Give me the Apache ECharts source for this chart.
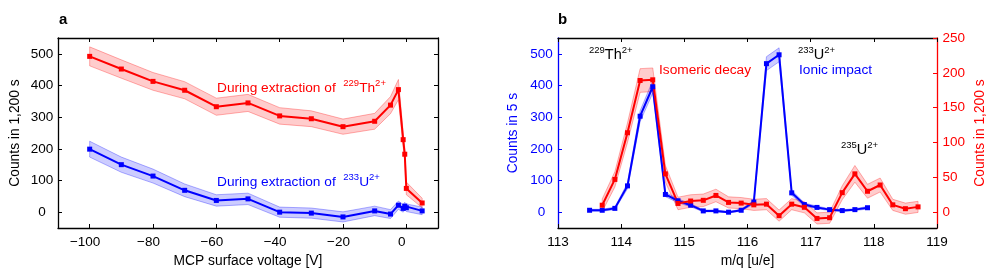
<!DOCTYPE html>
<html><head><meta charset="utf-8">
<script src="https://cdn.jsdelivr.net/npm/echarts@6/dist/echarts.min.js"></script>
<style>html,body{margin:0;padding:0;background:#fff}#c{width:997px;height:274px}</style>
</head><body><div id="c"></div>
<script>
// ---- Panel a data ----
const voltA = [-100,-90,-80,-70,-60,-50,-40,-30,-20,-10,-5,-2.5,-1,-0.5,0,5];
const thA    = [492,452,413,385,333,345,304,295,270,287,338,387,229,183,75,29];
const thAErr = [30,29,28,27,27,27,26,25,24,25,27,32,22,20,20,15];
const uA     = [199,150,114,69,37,42,0,-3,-15,4,-6,22,12,19,14,4];
const uAErr  = [25,24,22,20,18,18,16,16,16,15,14,13,12,12,12,12];
const ticksA_x = [-100,-80,-60,-40,-20,0];
const ticksA_y = [0,100,200,300,400,500];

// ---- Panel b data ----
const mqBlue = [113.5,113.7,113.9,114.1,114.3,114.5,114.7,114.9,115.1,115.3,115.5,115.7,115.9,116.1,116.3,116.5,116.7,116.9,117.1,117.3,117.5,117.7,117.9];
const ionic    = [6,6,12,83,303,396,56,36,22,4,4,0,6,32,469,497,61,24,15,8,5,8,14];
const ionicErr = [3,3,4,9,17,20,7,6,5,3,3,2,3,6,22,22,8,5,4,3,3,3,4];
const mqRed = [113.7,113.9,114.1,114.3,114.5,114.7,114.9,115.1,115.3,115.5,115.7,115.9,116.1,116.3,116.5,116.7,116.9,117.1,117.3,117.5,117.7,117.9,118.1,118.3,118.5,118.7];
const iso    = [10,47,114,189,190,55,12.5,16,17,24,14,13,10.5,11.5,-5,11.5,7,-9,-8,28,55,30,39,10.5,5,7.6];
const isoErr = [9,11,14,17,17,12,9,9,9,9,8,8,8,8,8,8,8,8,8,10,12,10,10,8,8,8];
const ticksB_x = [113,114,115,116,117,118,119];
const ticksB_yL = [0,100,200,300,400,500];
const ticksB_yR = [0,50,100,150,200,250];

const FF = "'Liberation Sans', Arial, Helvetica, sans-serif";
const RED = '#ff0000', BLUE = '#0000ff';

function band(xs, ys, es, xi, yi, fill, stroke){
  return {type:'custom', xAxisIndex:xi, yAxisIndex:yi, silent:true, z:1, animation:false,
    data: xs.map((x,i)=>[x, ys[i]-es[i], ys[i]+es[i]]),
    encode:{x:0, y:[1,2]},
    renderItem(params, api){
      if (params.dataIndex !== 0) return {type:'group', children:[]};
      const up=[], lo=[];
      for (let i=0;i<xs.length;i++){
        up.push(api.coord([xs[i], ys[i]+es[i]]));
        lo.push(api.coord([xs[i], ys[i]-es[i]]));
      }
      return {type:'polygon', shape:{points: up.concat(lo.reverse())},
              style:{fill:fill, stroke:stroke, lineWidth:1}};
    }};
}
function line(xs, ys, xi, yi, color){
  return {type:'line', xAxisIndex:xi, yAxisIndex:yi, z:3, animation:false,
    data: xs.map((x,i)=>[x, ys[i]]), symbol:'rect', symbolSize:5, showSymbol:true,
    itemStyle:{color:color}, lineStyle:{color:color, width:2}};
}
function minus(v){ return String(v).replace('-', '\u2212'); }

function xAx(grid, pos, min, max, ticks, opts, labelOpts){
  const showL = pos === 'bottom';
  return Object.assign({type:'value', gridIndex:grid, position:pos, min:min, max:max,
    axisLine:{show:true, onZero:false, lineStyle:{color:'#000', width:1.3}},
    axisTick:{show:true, inside:true, length:4, customValues:ticks, lineStyle:{color:'#000'}},
    axisLabel:Object.assign({show:showL, customValues:ticks, formatter:minus, color:'#000', fontSize:13.5, fontFamily:FF, margin:7}, labelOpts||{}),
    splitLine:{show:false}}, opts||{});
}
function yAx(grid, pos, min, max, ticks, color, labelOpts, opts){
  return Object.assign({type:'value', gridIndex:grid, position:pos, min:min, max:max,
    axisLine:{show:true, onZero:false, lineStyle:{color:color, width:1.3}},
    axisTick:{show:true, inside:true, length:4, customValues:ticks, lineStyle:{color:color}},
    axisLabel:Object.assign({customValues:ticks, color:color, fontSize:13.5, fontFamily:FF}, labelOpts),
    splitLine:{show:false}}, opts||{});
}

const chart = echarts.init(document.getElementById('c'), null, {renderer:'canvas'});
const sup = (c)=>({fontSize:9.5, fontFamily:FF, fill:c, verticalAlign:'top', lineHeight:10});
const nrm = (c,s)=>({fontSize:s, fontFamily:FF, fill:c, lineHeight:19});
function rtext(x, y, text, color, size){
  return {type:'text', x:x, y:y, silent:true,
    style:{text:text, align:'left', verticalAlign:'middle', fontSize:size, fontFamily:FF, fill:color,
      rich:{n:nrm(color,size), s:sup(color)}}};
}

chart.setOption({
  animation:false,
  backgroundColor:'#fff',
  grid:[
    {left:58, top:38, width:380, height:190},
    {left:558, top:38, width:379, height:190}
  ],
  xAxis:[
    xAx(0,'bottom',-110,10,ticksA_x,{name:'MCP surface voltage [V]', nameLocation:'middle', nameGap:25,
      nameTextStyle:{fontSize:13.8, fontFamily:FF, color:'#000'}}, {padding:[0,9,0,0]}),
    xAx(0,'top',-110,10,ticksA_x),
    xAx(1,'bottom',113,119,ticksB_x,{name:'m/q [u/e]', nameLocation:'middle', nameGap:25,
      nameTextStyle:{fontSize:13.8, fontFamily:FF, color:'#000'}}),
    xAx(1,'top',113,119,ticksB_x)
  ],
  yAxis:[
    yAx(0,'left',-50,550,ticksA_y,'#000',{align:'center', margin:16},
      {name:'Counts in 1,200 s', nameLocation:'middle', nameRotate:90, nameGap:36,
       nameTextStyle:{fontSize:13.8, fontFamily:FF, color:'#000'}}),
    yAx(0,'right',-50,550,ticksA_y,'#000',{show:false}),
    yAx(1,'left',-50,550,ticksB_yL,BLUE,{align:'center', margin:16.5},
      {name:'Counts in 5 s', nameLocation:'middle', nameRotate:90, nameGap:38,
       nameTextStyle:{fontSize:13.8, fontFamily:FF, color:BLUE}}),
    yAx(1,'right',-250/11,250,ticksB_yR,RED,{align:'left', margin:5.5},
      {name:'Counts in 1,200 s', nameLocation:'middle', nameRotate:90, nameGap:36,
       nameTextStyle:{fontSize:13.8, fontFamily:FF, color:RED}})
  ],
  series:[
    band(voltA, thA, thAErr, 0, 0, 'rgba(255,0,0,0.2)', 'rgba(255,0,0,0.3)'),
    band(voltA, uA, uAErr, 0, 0, 'rgba(0,0,255,0.2)', 'rgba(0,0,255,0.3)'),
    line(voltA, thA, 0, 0, RED),
    line(voltA, uA, 0, 0, BLUE),
    band(mqBlue, ionic, ionicErr, 2, 2, 'rgba(0,0,255,0.2)', 'rgba(0,0,255,0.3)'),
    band(mqRed, iso, isoErr, 2, 3, 'rgba(255,0,0,0.2)', 'rgba(255,0,0,0.3)'),
    line(mqBlue, ionic, 2, 2, BLUE),
    line(mqRed, iso, 2, 3, RED)
  ],
  graphic:[
    {type:'text', x:59, y:20, silent:true, style:{text:'a', fontSize:15, fontWeight:'bold', fontFamily:FF, fill:'#000', verticalAlign:'middle'}},
    {type:'text', x:558, y:20, silent:true, style:{text:'b', fontSize:15, fontWeight:'bold', fontFamily:FF, fill:'#000', verticalAlign:'middle'}},
    rtext(217, 88, '{n|During extraction of  }{s|229}{n|Th}{s|2+}', RED, 13.7),
    rtext(217, 182, '{n|During extraction of  }{s|233}{n|U}{s|2+}', BLUE, 13.7),
    rtext(589, 55, '{s|229}{n|Th}{s|2+}', '#000', 14.5),
    rtext(659, 70, '{n|Isomeric decay}', RED, 13.7),
    rtext(798, 55, '{s|233}{n|U}{s|2+}', '#000', 14.5),
    rtext(799, 70, '{n|Ionic impact}', BLUE, 13.7),
    rtext(841, 150, '{s|235}{n|U}{s|2+}', '#000', 14.5)
  ]
});
</script>
</body></html>
